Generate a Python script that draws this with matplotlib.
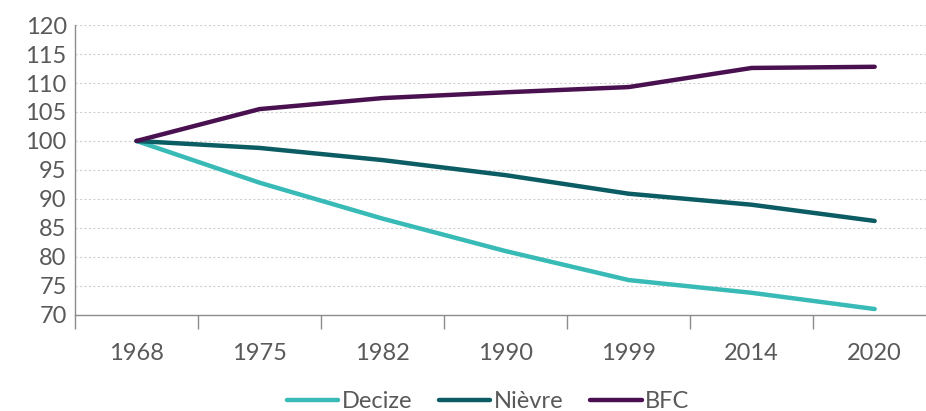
import numpy as np
import matplotlib.pyplot as plt

years = ['1968', '1975', '1982', '1990', '1999', '2014', '2020']
decize = [100, 92.8, 86.6, 81.0, 76.0, 73.8, 71.0]
nievre = [100, 98.8, 96.7, 94.1, 90.9, 89.0, 86.2]
bfc = [100, 105.5, 107.4, 108.4, 109.3, 112.6, 112.8]

plt.rcParams['font.family'] = ['Lato', 'DejaVu Sans']
txt = '#595959'

fig = plt.figure(figsize=(9.26, 4.11), dpi=100)
ax = fig.add_axes([0.081, 0.234, 0.93, 0.705])

x = np.arange(len(years))
ax.plot(x, decize, color='#38BAB6', lw=3.2, solid_capstyle='round', label='Decize')
ax.plot(x, nievre, color='#0B5C63', lw=3.2, solid_capstyle='round', label='Nièvre')
ax.plot(x, bfc, color='#4A1150', lw=3.2, solid_capstyle='round', label='BFC')

ax.set_xlim(-0.5, len(years) - 0.5)
ax.set_ylim(70, 120)
ax.set_yticks(np.arange(70, 121, 5))
ax.set_xticks(x)
ax.set_xticklabels(years)
ax.set_xticks(np.arange(len(years) + 1) - 0.5, minor=True)
ax.tick_params(axis='x', which='major', length=0, pad=20, labelsize=17, labelcolor=txt)
ax.tick_params(axis='x', which='minor', length=10, color='#8c8c8c', width=1)
ax.tick_params(axis='y', length=0, pad=6, labelsize=17, labelcolor=txt)

ax.grid(axis='y', color='#d0d0d0', linestyle=(0, (2, 2)), lw=0.8)
ax.set_axisbelow(True)
for s in ['top', 'right']:
    ax.spines[s].set_visible(False)
for s in ['left', 'bottom']:
    ax.spines[s].set_color('#8c8c8c')
    ax.spines[s].set_linewidth(1)

leg = fig.legend(loc='lower center', bbox_to_anchor=(0.527, -0.055), ncol=3, frameon=False,
                 fontsize=17, handlelength=2.2, handletextpad=0.15, columnspacing=1.1)
for t in leg.get_texts():
    t.set_color(txt)

fig.savefig('out.png', dpi=100)
